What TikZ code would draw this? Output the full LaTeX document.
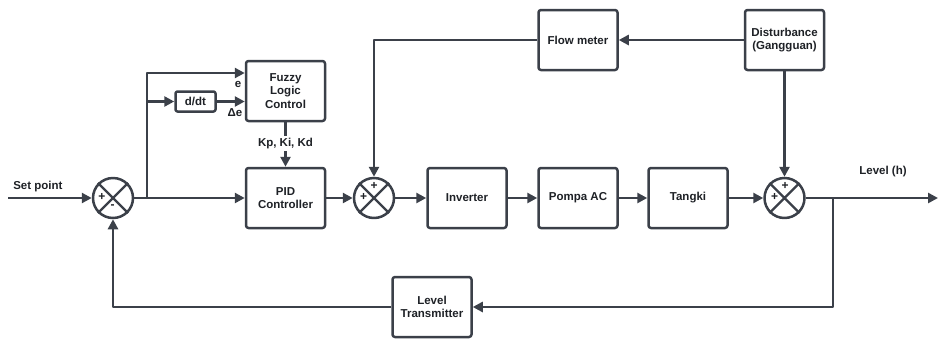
\documentclass[tikz,border=0pt]{standalone}
\usepackage{fontspec}
\setmainfont{Liberation Sans}
\usetikzlibrary{arrows.meta}
\definecolor{ln}{HTML}{3B4049}
\definecolor{tx}{HTML}{1E2126}
\begin{document}
\begin{tikzpicture}[x=1pt,y=-1pt,
  line width=2.5pt, line join=round,
  conn/.style={draw=ln,-{Triangle[length=10pt,width=10pt]}},
  plain/.style={draw=ln},
  blk/.style={draw=ln,rounded corners=2.5pt,minimum width=79pt,minimum height=60pt,inner sep=1pt,align=center,
    font=\fontsize{11.5}{13.5}\selectfont\bfseries,text=tx,fill=white},
  sumj/.style={draw=ln,circle,minimum size=40pt,inner sep=0pt,fill=white},
  lbl/.style={font=\fontsize{11.5}{13.5}\selectfont\bfseries,text=tx,inner sep=0pt},
  sgn/.style={font=\fontsize{12}{12}\selectfont\bfseries,text=tx,inner sep=0pt}]
\useasboundingbox (0,0) rectangle (939,338);
% blocks
\node[blk] (fuzzy) at (285.5,91) {Fuzzy\\Logic\\Control};
\node[blk] (pid) at (285.5,198) {PID\\Controller};
\node[blk,minimum width=40pt,minimum height=20pt,rounded corners=2pt] (ddt) at (195.5,101.5) {d/dt};
\node[blk] (inv) at (467,198) {Inverter};
\node[blk] (pompa) at (578,198) {Pompa AC};
\node[blk] (tangki) at (688,198) {Tangki};
\node[blk] (flow) at (578,40) {Flow meter};
\node[blk] (dist) at (784.5,40) {Disturbance\\(Gangguan)};
\node[blk] (lt) at (432,307) {Level\\Transmitter};
% summing junctions
\foreach \n/\x in {s1/113,s2/374,s3/784.5}{
  \node[sumj] (\n) at (\x,198) {};
  \draw[ln,line width=2.3pt] (\n.north west) -- (\n.south east) (\n.north east) -- (\n.south west);
}
\node[sgn] at (102,196.5) {+};
\node[sgn] at (112.5,207) {-};
\node[sgn] at (374,186) {+};
\node[sgn] at (363.5,196.5) {+};
\node[sgn] at (785,186) {+};
\node[sgn] at (774.5,196.5) {+};
% coordinates
\coordinate (sp) at (8,198);
\coordinate (br1) at (147,198);
\coordinate (out) at (938,198);
\coordinate (br2) at (833,198);
% labels
\node[lbl,anchor=west] (splbl) at (12,187) {Set point};
\node[lbl] (lvl) at (883,172) {Level (h)};
\node[lbl] (elbl) at (238,84) {e};
\node[lbl] (delbl) at (235,113) {Δe};
% connectors
\draw[conn] (sp) -- (s1.west);
\draw[conn] (s1.east) -- (pid.west);
\draw[conn] (br1) |- (fuzzy.west |- 0,73);
\draw[conn] (br1 |- ddt.west) -- (ddt.west);
\draw[conn] (ddt.east) -- (fuzzy.west |- ddt.east);
\draw[conn] (fuzzy.south) -- (pid.north) node[pos=0.47,fill=white,lbl,inner sep=2pt] (kp) {Kp, Ki, Kd};
\draw[conn] (pid.east) -- (s2.west);
\draw[conn] (s2.east) -- (inv.west);
\draw[conn] (inv.east) -- (pompa.west);
\draw[conn] (pompa.east) -- (tangki.west);
\draw[conn] (tangki.east) -- (s3.west);
\draw[conn] (s3.east) -- (out);
\draw[conn] (dist.west) -- (flow.east);
\draw[conn] (flow.west) -| (s2.north);
\draw[conn] (dist.south) -- (s3.north);
\draw[conn] (br2) |- (lt.east);
\draw[conn] (lt.west) -| (s1.south);
\end{tikzpicture}
\end{document}
